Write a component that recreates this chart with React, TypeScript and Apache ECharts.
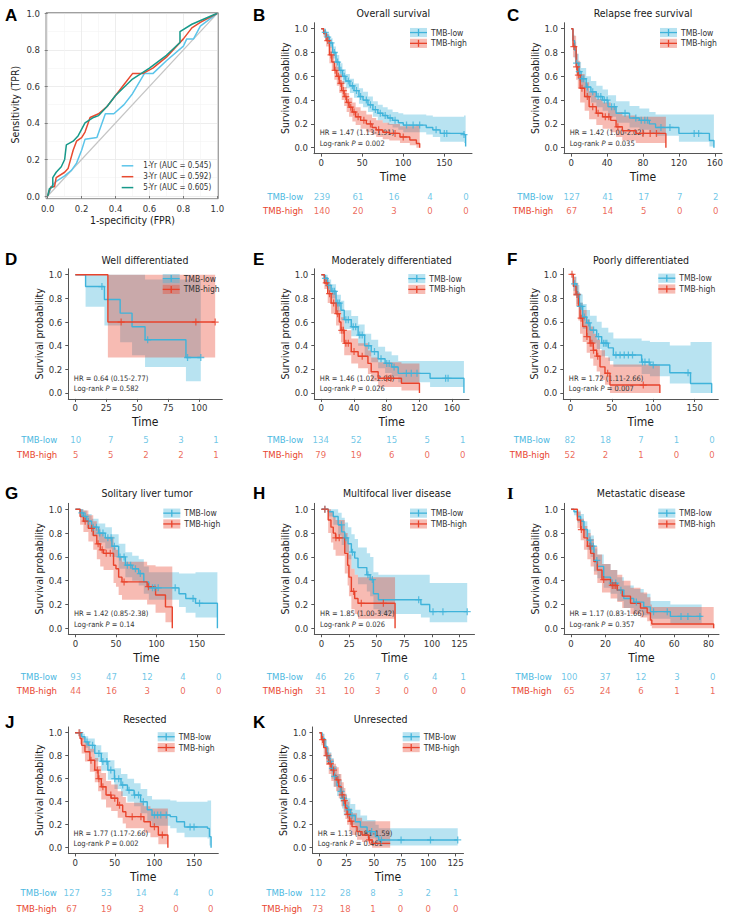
import React, { useEffect, useRef } from "react";
import * as echarts from "echarts";

type Row = [number, number, number, number]; // time, survival, lower CI, upper CI
type Pt = [number, number];

const LOW_COLOR = "#3fb3da";
const HIGH_COLOR = "#e8432c";
const LOW_BAND = "rgba(63,179,218,0.37)";
const HIGH_BAND = "rgba(232,67,44,0.36)";
const LOW_TEXT = "#4cb8df";
const HIGH_TEXT = "#e8452f";
const ROC_COLORS = ["#5cc5ea", "#e84a30", "#17998a"];
const FONT = "'DejaVu Sans Condensed', 'Liberation Sans', sans-serif";
const LETTER_FONT = "'Liberation Sans', Arial, sans-serif";
const PLUS = "path://M-0.9,-5H0.9V-0.9H5V0.9H0.9V5H-0.9V0.9H-5V-0.9H-0.9Z";

// ---------------- Panel A : ROC ----------------
const rocLabels = ["1-Yr (AUC = 0.545)", "3-Yr (AUC = 0.592)", "5-Yr (AUC = 0.605)"];
const rocDiagonal: Pt[] = [[0, 0], [1, 1]];
const roc1Yr: Pt[] = [[0, 0], [0.01, 0.02], [0.02, 0.05], [0.05, 0.08], [0.1, 0.11], [0.14, 0.14], [0.17, 0.18], [0.2, 0.25], [0.22, 0.31], [0.29, 0.32], [0.34, 0.45], [0.39, 0.45], [0.45, 0.5], [0.5, 0.56], [0.57, 0.67], [0.62, 0.67], [0.7, 0.74], [0.8, 0.82], [0.82, 0.86], [0.86, 0.86], [0.9, 0.93], [1, 1]];
const roc3Yr: Pt[] = [[0, 0], [0.01, 0.03], [0.02, 0.05], [0.04, 0.05], [0.05, 0.1], [0.1, 0.13], [0.12, 0.15], [0.15, 0.25], [0.17, 0.3], [0.2, 0.32], [0.22, 0.35], [0.25, 0.43], [0.3, 0.45], [0.35, 0.49], [0.4, 0.55], [0.45, 0.61], [0.5, 0.67], [0.56, 0.67], [0.62, 0.7], [0.7, 0.76], [0.8, 0.86], [0.85, 0.92], [0.9, 0.95], [1, 1]];
const roc5Yr: Pt[] = [[0, 0], [0.01, 0.04], [0.03, 0.05], [0.03, 0.1], [0.05, 0.13], [0.08, 0.16], [0.1, 0.2], [0.11, 0.28], [0.15, 0.3], [0.18, 0.33], [0.22, 0.4], [0.27, 0.43], [0.3, 0.44], [0.35, 0.49], [0.4, 0.55], [0.5, 0.64], [0.6, 0.7], [0.7, 0.77], [0.78, 0.84], [0.78, 0.9], [0.85, 0.94], [1, 1]];

// ---------------- KM panels ----------------
const survTicks = [0, 0.2, 0.4, 0.6, 0.8, 1.0];
const groupNames = ["TMB-low", "TMB-high"];

// B
const bTitle = "Overall survival";
const bTicks = [0, 50, 100, 150];
const bLow: Row[] = [[0, 1, 1, 1], [3, 0.97, 0.95, 0.99], [6, 0.93, 0.9, 0.96], [10, 0.88, 0.84, 0.92], [14, 0.8, 0.75, 0.85], [18, 0.72, 0.66, 0.78], [22, 0.65, 0.59, 0.71], [26, 0.6, 0.54, 0.66], [30, 0.56, 0.5, 0.62], [35, 0.52, 0.46, 0.58], [40, 0.48, 0.42, 0.54], [46, 0.43, 0.37, 0.5], [51, 0.4, 0.34, 0.47], [57, 0.36, 0.3, 0.43], [63, 0.32, 0.26, 0.39], [69, 0.29, 0.23, 0.36], [75, 0.27, 0.21, 0.34], [81, 0.25, 0.19, 0.32], [87, 0.23, 0.17, 0.3], [94, 0.21, 0.15, 0.29], [100, 0.19, 0.13, 0.28], [128, 0.17, 0.11, 0.27], [136, 0.15, 0.09, 0.26], [145, 0.12, 0.05, 0.26], [174, 0.11, 0.04, 0.27], [176, 0.01, 0, 0]];
const bHigh: Row[] = [[0, 1, 1, 1], [3, 0.96, 0.93, 0.99], [6, 0.9, 0.85, 0.95], [10, 0.78, 0.71, 0.85], [13, 0.72, 0.65, 0.79], [16, 0.65, 0.57, 0.73], [19, 0.6, 0.52, 0.68], [22, 0.54, 0.46, 0.62], [25, 0.48, 0.4, 0.56], [28, 0.43, 0.35, 0.51], [31, 0.38, 0.3, 0.46], [34, 0.34, 0.26, 0.42], [38, 0.3, 0.22, 0.38], [42, 0.26, 0.19, 0.34], [48, 0.23, 0.16, 0.31], [55, 0.2, 0.13, 0.28], [62, 0.17, 0.11, 0.25], [67, 0.15, 0.09, 0.23], [75, 0.13, 0.07, 0.21], [83, 0.12, 0.06, 0.2], [96, 0.09, 0.04, 0.18], [108, 0.065, 0.02, 0.18], [116, 0.035, 0, 0.19], [120, 0, 0, 0]];
const bLowCens = [5, 8, 12, 16, 20, 24, 28, 33, 38, 43, 48, 55, 60, 66, 72, 78, 84, 90, 104, 112, 120, 140, 150, 153, 174];
const bHighCens = [8, 12, 17, 21, 24, 27, 30, 33, 36, 40, 45, 52, 60, 70, 90, 100];
const bRiskLow = [239, 61, 16, 4, 0];
const bRiskHigh = [140, 20, 3, 0, 0];
const bHR = "HR = 1.47 (1.13-1.91)";
const bP = "0.002";

// C
const cTitle = "Relapse free survival";
const cTicks = [0, 40, 80, 120, 160];
const cLow: Row[] = [[0, 1, 1, 1], [2, 0.9, 0.85, 0.95], [3.7, 0.82, 0.75, 0.89], [5.5, 0.71, 0.63, 0.79], [8.5, 0.64, 0.56, 0.72], [11, 0.58, 0.5, 0.67], [16.7, 0.51, 0.42, 0.6], [22, 0.47, 0.38, 0.56], [28, 0.43, 0.34, 0.52], [35, 0.4, 0.31, 0.49], [41, 0.345, 0.26, 0.44], [50, 0.29, 0.21, 0.39], [65, 0.25, 0.17, 0.35], [76, 0.23, 0.15, 0.33], [87, 0.2, 0.12, 0.3], [94, 0.17, 0.1, 0.28], [120, 0.12, 0.05, 0.28], [154, 0.06, 0.01, 0.28], [159, 0, 0, 0]];
const cHigh: Row[] = [[0, 1, 1, 1], [2, 0.85, 0.76, 0.94], [5.5, 0.68, 0.57, 0.79], [7.4, 0.61, 0.5, 0.73], [10, 0.5, 0.38, 0.62], [15, 0.43, 0.31, 0.55], [20, 0.345, 0.24, 0.47], [28, 0.29, 0.19, 0.41], [35, 0.26, 0.16, 0.38], [44, 0.23, 0.13, 0.35], [50, 0.176, 0.09, 0.3], [57, 0.143, 0.06, 0.27], [72, 0.12, 0.04, 0.26], [105.5, 0, 0, 0]];
const cLowCens = [6, 9, 12, 14, 18, 24, 30, 33, 37, 40, 45, 48, 60, 72, 78, 82, 85, 100, 110, 137, 142];
const cHighCens = [3, 6, 8, 12, 18, 24, 30, 38, 42, 52, 80, 88, 95];
const cRiskLow = [127, 41, 17, 7, 2];
const cRiskHigh = [67, 14, 5, 0, 0];
const cHR = "HR = 1.42 (1.00-2.02)";
const cP = "0.035";

// D
const dTitle = "Well differentiated";
const dTicks = [0, 25, 50, 75, 100];
const dLow: Row[] = [[0, 1, 1, 1], [8.3, 0.9, 0.73, 1], [23.5, 0.79, 0.57, 1], [36.2, 0.675, 0.43, 1], [45.8, 0.56, 0.32, 1], [56.3, 0.45, 0.22, 0.96], [89.3, 0.3, 0.1, 0.96], [101.3, 0.3, 0.1, 0.96]];
const dHigh: Row[] = [[0, 1, 1, 1], [26.3, 0.6, 0.3, 1], [112.9, 0.6, 0.3, 1]];
const dLowCens = [21.5, 58.4, 90.6, 101.3];
const dHighCens = [37, 97.3, 112.9];
const dRiskLow = [10, 7, 5, 3, 1];
const dRiskHigh = [5, 5, 2, 2, 1];
const dHR = "HR = 0.64 (0.15-2.77)";
const dP = "0.582";

// E
const eTitle = "Moderately differentiated";
const eTicks = [0, 40, 80, 120, 160];
const eLow: Row[] = [[0, 1, 1, 1], [3.7, 0.97, 0.94, 1], [7.8, 0.91, 0.86, 0.96], [12, 0.86, 0.8, 0.92], [18, 0.76, 0.69, 0.83], [24, 0.7, 0.62, 0.78], [28, 0.62, 0.54, 0.7], [36.6, 0.56, 0.48, 0.65], [45, 0.49, 0.4, 0.58], [53, 0.4, 0.31, 0.5], [61, 0.35, 0.26, 0.45], [69.5, 0.29, 0.21, 0.39], [78, 0.25, 0.17, 0.35], [86, 0.22, 0.14, 0.32], [94, 0.166, 0.09, 0.27], [133, 0.124, 0.05, 0.27], [174.4, 0, 0, 0]];
const eHigh: Row[] = [[0, 1, 1, 1], [3.7, 0.93, 0.88, 0.98], [7.8, 0.84, 0.76, 0.92], [12, 0.76, 0.67, 0.85], [18, 0.67, 0.57, 0.77], [22, 0.6, 0.5, 0.7], [24, 0.53, 0.43, 0.64], [28, 0.42, 0.32, 0.53], [36.6, 0.35, 0.25, 0.46], [45, 0.31, 0.21, 0.42], [57, 0.25, 0.16, 0.36], [61, 0.18, 0.1, 0.3], [69.5, 0.124, 0.05, 0.26], [98, 0.082, 0.02, 0.25], [120, 0, 0, 0]];
const eLowCens = [5, 9, 14, 16, 20, 22, 30, 33, 39, 42, 47, 50, 58, 65, 73, 80, 83, 89, 104, 110, 117, 152, 155];
const eHighCens = [6, 10, 15, 20, 25, 27, 30, 33, 40, 50, 80, 85];
const eRiskLow = [134, 52, 15, 5, 1];
const eRiskHigh = [79, 19, 6, 0, 0];
const eHR = "HR = 1.46 (1.02-2.08)";
const eP = "0.026";

// F
const fTitle = "Poorly differentiated";
const fTicks = [0, 50, 100, 150];
const fLow: Row[] = [[0, 1, 1, 1], [3.6, 0.92, 0.86, 0.98], [7.6, 0.83, 0.75, 0.91], [10.9, 0.73, 0.64, 0.83], [14.9, 0.64, 0.54, 0.75], [19.7, 0.59, 0.48, 0.7], [23.7, 0.53, 0.42, 0.65], [31.8, 0.475, 0.37, 0.6], [37.8, 0.42, 0.31, 0.55], [45.8, 0.38, 0.27, 0.51], [51.9, 0.32, 0.22, 0.46], [86, 0.26, 0.16, 0.44], [96, 0.236, 0.14, 0.43], [120, 0.17, 0.08, 0.4], [145, 0.08, 0, 0.43], [170.5, 0, 0, 0]];
const fHigh: Row[] = [[0, 1, 1, 1], [3.6, 0.9, 0.82, 0.98], [6.8, 0.83, 0.73, 0.93], [9.7, 0.73, 0.61, 0.85], [11.7, 0.63, 0.5, 0.76], [14.9, 0.56, 0.43, 0.7], [19.7, 0.475, 0.34, 0.62], [23.7, 0.42, 0.29, 0.56], [27.7, 0.36, 0.23, 0.5], [31.8, 0.31, 0.18, 0.45], [35.8, 0.22, 0.11, 0.36], [41.8, 0.166, 0.07, 0.3], [47.8, 0.067, 0, 0.24], [108, 0, 0, 0]];
const fLowCens = [5, 9, 12, 14, 17, 22, 28, 34, 40, 42, 44, 55, 60, 65, 70, 75, 87, 90, 95, 100, 142];
const fHighCens = [2, 8, 13, 20, 24, 26, 28, 33, 45, 88];
const fRiskLow = [82, 18, 7, 1, 0];
const fRiskHigh = [52, 2, 1, 0, 0];
const fHR = "HR = 1.72 (1.11-2.66)";
const fP = "0.007";

// G
const gTitle = "Solitary liver tumor";
const gTicks = [0, 50, 100, 150];
const gLow: Row[] = [[0, 1, 1, 1], [5.8, 0.97, 0.94, 1], [9.9, 0.94, 0.89, 0.99], [14, 0.9, 0.84, 0.96], [20, 0.85, 0.78, 0.92], [28.5, 0.8, 0.72, 0.88], [36.8, 0.76, 0.67, 0.85], [45, 0.69, 0.6, 0.79], [53.3, 0.6, 0.5, 0.71], [61.6, 0.53, 0.43, 0.64], [70, 0.5, 0.4, 0.61], [78, 0.46, 0.36, 0.58], [84.3, 0.39, 0.29, 0.52], [90.5, 0.34, 0.24, 0.47], [127.7, 0.29, 0.18, 0.46], [136, 0.25, 0.13, 0.46], [148, 0.21, 0.09, 0.47], [175, 0, 0, 0]];
const gHigh: Row[] = [[0, 1, 1, 1], [5.8, 0.94, 0.87, 1], [9.9, 0.9, 0.81, 0.99], [16, 0.84, 0.73, 0.95], [22, 0.78, 0.66, 0.9], [26.4, 0.71, 0.58, 0.84], [30.6, 0.66, 0.52, 0.8], [34.7, 0.63, 0.49, 0.77], [47, 0.53, 0.38, 0.68], [50, 0.5, 0.35, 0.66], [53.3, 0.43, 0.28, 0.6], [57.4, 0.39, 0.24, 0.56], [88.4, 0.35, 0.2, 0.53], [98.8, 0.28, 0.13, 0.52], [111, 0.18, 0.05, 0.52], [119.4, 0, 0, 0]];
const gLowCens = [8, 12, 16, 22, 26, 30, 34, 40, 44, 48, 55, 60, 64, 68, 74, 80, 95, 98, 102, 123, 145, 153];
const gHighCens = [12, 20, 28, 33, 38, 43, 60, 90];
const gRiskLow = [93, 47, 12, 4, 0];
const gRiskHigh = [44, 16, 3, 0, 0];
const gHR = "HR = 1.42 (0.85-2.38)";
const gP = "0.14";

// H
const hTitle = "Multifocal liver disease";
const hTicks = [0, 25, 50, 75, 100, 125];
const hLow: Row[] = [[0, 1, 1, 1], [6, 0.98, 0.94, 1], [10.6, 0.94, 0.87, 1], [15, 0.87, 0.78, 0.97], [18.2, 0.81, 0.7, 0.93], [21, 0.76, 0.64, 0.89], [24, 0.71, 0.58, 0.85], [27, 0.64, 0.5, 0.79], [30, 0.59, 0.45, 0.75], [33, 0.51, 0.37, 0.68], [41, 0.45, 0.31, 0.63], [44, 0.41, 0.27, 0.6], [47, 0.29, 0.16, 0.47], [51.5, 0.24, 0.12, 0.45], [90, 0.2, 0.09, 0.45], [98, 0.14, 0.05, 0.38], [132, 0.14, 0.05, 0.38]];
const hHigh: Row[] = [[0, 1, 1, 1], [6, 0.91, 0.8, 1], [8.5, 0.85, 0.72, 0.98], [10.6, 0.8, 0.66, 0.94], [12.7, 0.76, 0.61, 0.91], [21, 0.63, 0.46, 0.8], [23.6, 0.53, 0.36, 0.71], [24.8, 0.43, 0.27, 0.62], [27, 0.31, 0.16, 0.5], [30, 0.25, 0.12, 0.45], [33, 0.21, 0.08, 0.43], [66.6, 0, 0, 0]];
const hLowCens = [3, 18, 22, 28, 42, 46, 88, 101, 110, 132];
const hHighCens = [3, 13, 16, 29, 36, 56];
const hRiskLow = [46, 26, 7, 6, 4, 1];
const hRiskHigh = [31, 10, 3, 0, 0, 0];
const hHR = "HR = 1.85 (1.00-3.42)";
const hP = "0.026";

// I
const iTitle = "Metastatic disease";
const iTicks = [0, 20, 40, 60, 80];
const iLow: Row[] = [[0, 1, 1, 1], [1.7, 0.98, 0.95, 1], [3.7, 0.94, 0.89, 0.99], [5.6, 0.9, 0.84, 0.96], [7.5, 0.83, 0.76, 0.9], [9.5, 0.74, 0.66, 0.83], [11.4, 0.69, 0.6, 0.78], [13.3, 0.57, 0.48, 0.67], [15.3, 0.52, 0.42, 0.62], [19, 0.43, 0.34, 0.54], [23, 0.38, 0.29, 0.49], [26.9, 0.32, 0.23, 0.43], [30.7, 0.25, 0.17, 0.36], [36.5, 0.22, 0.14, 0.33], [42.3, 0.18, 0.11, 0.29], [46.2, 0.14, 0.08, 0.23], [57.8, 0.1, 0.04, 0.2], [76, 0.1, 0.04, 0.2]];
const iHigh: Row[] = [[0, 1, 1, 1], [3.7, 0.91, 0.84, 0.98], [5.6, 0.83, 0.74, 0.92], [7.5, 0.76, 0.66, 0.86], [9.5, 0.69, 0.58, 0.8], [11.4, 0.63, 0.52, 0.75], [13.3, 0.56, 0.45, 0.69], [15.3, 0.49, 0.38, 0.62], [18, 0.41, 0.3, 0.54], [23, 0.36, 0.25, 0.49], [26.9, 0.32, 0.22, 0.45], [29.8, 0.27, 0.17, 0.4], [34.6, 0.21, 0.12, 0.34], [40.4, 0.17, 0.09, 0.3], [44.3, 0.13, 0.06, 0.26], [46.2, 0.07, 0.02, 0.2], [47, 0.036, 0, 0.18], [83, 0, 0, 0]];
const iLowCens = [11, 12, 13, 15, 24, 26, 29, 38, 48, 56, 64, 68, 75];
const iHighCens = [6, 11, 19, 24, 25, 26];
const iRiskLow = [100, 37, 12, 3, 0];
const iRiskHigh = [65, 24, 6, 1, 1];
const iHR = "HR = 1.17 (0.83-1.66)";
const iP = "0.357";

// J
const jTitle = "Resected";
const jTicks = [0, 50, 100, 150];
const jLow: Row[] = [[0, 1, 1, 1], [8.3, 0.965, 0.94, 0.99], [12.4, 0.92, 0.87, 0.97], [16.5, 0.89, 0.83, 0.95], [24.8, 0.82, 0.75, 0.89], [33, 0.75, 0.67, 0.83], [41.3, 0.675, 0.59, 0.76], [49.6, 0.6, 0.51, 0.69], [57.9, 0.545, 0.45, 0.64], [66, 0.5, 0.4, 0.6], [74.4, 0.458, 0.36, 0.56], [82.6, 0.4, 0.3, 0.51], [91, 0.33, 0.23, 0.45], [97, 0.284, 0.19, 0.42], [120, 0.27, 0.17, 0.41], [128, 0.226, 0.13, 0.4], [138, 0.18, 0.09, 0.4], [167, 0.168, 0.08, 0.41], [169.4, 0.096, 0.02, 0.41], [171.5, 0, 0, 0]];
const jHigh: Row[] = [[0, 1, 1, 1], [6.2, 0.95, 0.9, 1], [8.3, 0.89, 0.82, 0.96], [12.4, 0.835, 0.75, 0.92], [18.6, 0.76, 0.66, 0.86], [24.8, 0.675, 0.57, 0.78], [29, 0.6, 0.49, 0.71], [33, 0.53, 0.42, 0.65], [39, 0.458, 0.35, 0.58], [45.5, 0.43, 0.32, 0.55], [53.7, 0.37, 0.26, 0.49], [60, 0.313, 0.21, 0.44], [64, 0.27, 0.17, 0.39], [86.8, 0.226, 0.13, 0.36], [95, 0.183, 0.09, 0.34], [105, 0.11, 0.03, 0.34], [117, 0, 0, 0]];
const jLowCens = [6, 15, 22, 30, 35, 40, 45, 50, 55, 60, 68, 75, 80, 86, 100, 104, 108, 115, 145, 150];
const jHighCens = [5, 20, 28, 30, 35, 45, 50, 56, 72, 83, 100, 110];
const jRiskLow = [127, 53, 14, 4, 0];
const jRiskHigh = [67, 19, 3, 0, 0];
const jHR = "HR = 1.77 (1.17-2.66)";
const jP = "0.002";

// K
const kTitle = "Unresected";
const kTicks = [0, 25, 50, 75, 100, 125];
const kLow: Row[] = [[0, 1, 1, 1], [2.5, 0.95, 0.91, 0.99], [4.9, 0.88, 0.82, 0.94], [7, 0.8, 0.73, 0.87], [9.2, 0.75, 0.67, 0.83], [11, 0.69, 0.6, 0.78], [13.2, 0.62, 0.53, 0.71], [16.2, 0.54, 0.45, 0.64], [19.3, 0.49, 0.4, 0.59], [20.8, 0.43, 0.34, 0.53], [22.4, 0.37, 0.28, 0.47], [25.4, 0.33, 0.25, 0.43], [28.5, 0.28, 0.2, 0.38], [33, 0.226, 0.15, 0.33], [37.7, 0.18, 0.11, 0.28], [43.8, 0.14, 0.08, 0.24], [51.5, 0.096, 0.04, 0.2], [54.5, 0.067, 0.02, 0.17], [127, 0.067, 0.02, 0.17]];
const kHigh: Row[] = [[0, 1, 1, 1], [1.8, 0.94, 0.89, 0.99], [4, 0.87, 0.8, 0.94], [6.1, 0.8, 0.72, 0.88], [8.6, 0.73, 0.64, 0.82], [11, 0.675, 0.58, 0.77], [13.2, 0.63, 0.53, 0.73], [15.3, 0.59, 0.49, 0.7], [17.8, 0.53, 0.43, 0.64], [20.2, 0.46, 0.36, 0.57], [22.4, 0.41, 0.31, 0.52], [23.9, 0.345, 0.25, 0.46], [25.4, 0.29, 0.2, 0.4], [27.6, 0.23, 0.15, 0.34], [30, 0.183, 0.11, 0.3], [34.6, 0.14, 0.07, 0.26], [39.2, 0.11, 0.05, 0.23], [45.3, 0.067, 0.02, 0.23], [48.4, 0.038, 0, 0.23], [65, 0.038, 0, 0.23]];
const kLowCens = [8, 10, 12, 14, 20, 22, 27, 30, 48, 57, 75, 102, 127];
const kHighCens = [3, 7, 10, 13, 17, 21, 23, 26, 29, 46];
const kRiskLow = [112, 28, 8, 3, 2, 1];
const kRiskHigh = [73, 18, 1, 0, 0, 0];
const kHR = "HR = 1.13 (0.81-1.59)";
const kP = "0.461";

const panels = [
  { id: "B", title: bTitle, ticks: bTicks, low: bLow, high: bHigh, lowCens: bLowCens, highCens: bHighCens, riskLow: bRiskLow, riskHigh: bRiskHigh, hr: bHR, p: bP },
  { id: "C", title: cTitle, ticks: cTicks, low: cLow, high: cHigh, lowCens: cLowCens, highCens: cHighCens, riskLow: cRiskLow, riskHigh: cRiskHigh, hr: cHR, p: cP },
  { id: "D", title: dTitle, ticks: dTicks, low: dLow, high: dHigh, lowCens: dLowCens, highCens: dHighCens, riskLow: dRiskLow, riskHigh: dRiskHigh, hr: dHR, p: dP },
  { id: "E", title: eTitle, ticks: eTicks, low: eLow, high: eHigh, lowCens: eLowCens, highCens: eHighCens, riskLow: eRiskLow, riskHigh: eRiskHigh, hr: eHR, p: eP },
  { id: "F", title: fTitle, ticks: fTicks, low: fLow, high: fHigh, lowCens: fLowCens, highCens: fHighCens, riskLow: fRiskLow, riskHigh: fRiskHigh, hr: fHR, p: fP },
  { id: "G", title: gTitle, ticks: gTicks, low: gLow, high: gHigh, lowCens: gLowCens, highCens: gHighCens, riskLow: gRiskLow, riskHigh: gRiskHigh, hr: gHR, p: gP },
  { id: "H", title: hTitle, ticks: hTicks, low: hLow, high: hHigh, lowCens: hLowCens, highCens: hHighCens, riskLow: hRiskLow, riskHigh: hRiskHigh, hr: hHR, p: hP },
  { id: "I", title: iTitle, ticks: iTicks, low: iLow, high: iHigh, lowCens: iLowCens, highCens: iHighCens, riskLow: iRiskLow, riskHigh: iRiskHigh, hr: iHR, p: iP },
  { id: "J", title: jTitle, ticks: jTicks, low: jLow, high: jHigh, lowCens: jLowCens, highCens: jHighCens, riskLow: jRiskLow, riskHigh: jRiskHigh, hr: jHR, p: jP },
  { id: "K", title: kTitle, ticks: kTicks, low: kLow, high: kHigh, lowCens: kLowCens, highCens: kHighCens, riskLow: kRiskLow, riskHigh: kRiskHigh, hr: kHR, p: kP },
];

// layout (pixel positions) per panel
const layouts: Record<string, any> = {
  B: { lx: 253, ly: 15, left: 314, right: 472, top: 22.75, bottom: 153.65, xMin: -8.75, xMax: 183.75, tx: 393.3, ty: 13, legX: 410, rL: 322, rR: 466, rY1: 196.8, rY2: 210.8, labR: 303.3 },
  C: { lx: 507, ly: 15, left: 564, right: 722, top: 22.75, bottom: 153.65, xMin: -8, xMax: 168, tx: 643, ty: 13, legX: 660, rL: 571.7, rR: 715.7, rY1: 196.8, rY2: 210.8, labR: 553.3 },
  D: { lx: 5, ly: 259, left: 68.3, right: 222.3, top: 268.8, bottom: 398.9, xMin: -5.65, xMax: 118.65, tx: 145, ty: 260, legX: 162.7, rL: 75.7, rR: 216, rY1: 439, rY2: 454.7, labR: 57.3 },
  E: { lx: 253, ly: 259, left: 314.3, right: 469, top: 268.8, bottom: 398.9, xMin: -8.6, xMax: 180.6, tx: 391.7, ty: 260, legX: 408.3, rL: 320.7, rR: 462.7, rY1: 439, rY2: 454.7, labR: 303.3 },
  F: { lx: 507, ly: 259, left: 563.3, right: 718.3, top: 268.4, bottom: 398.9, xMin: -8.5, xMax: 178.5, tx: 641, ty: 260, legX: 658.3, rL: 570, rR: 712, rY1: 439, rY2: 454.7, labR: 550 },
  G: { lx: 5, ly: 493, left: 68.3, right: 224.5, top: 503.35, bottom: 634.25, xMin: -8.75, xMax: 183.75, tx: 147, ty: 493, legX: 163.3, rL: 75.7, rR: 218.7, rY1: 676, rY2: 690.3, labR: 57 },
  H: { lx: 253, ly: 493, left: 314.3, right: 474.5, top: 503.35, bottom: 634.25, xMin: -6.6, xMax: 138.6, tx: 397, ty: 493, legX: 410, rL: 320.7, rR: 463.3, rY1: 676, rY2: 690.3, labR: 303 },
  I: { lx: 507, ly: 493, left: 564, right: 719, top: 503.35, bottom: 634.25, xMin: -4.1, xMax: 86.1, tx: 641, ty: 493, legX: 658.3, rL: 569.3, rR: 712.7, rY1: 676, rY2: 690.3, labR: 551.7, serif: true },
  J: { lx: 5, ly: 722, left: 68.3, right: 218.3, top: 726.95, bottom: 853.45, xMin: -8.6, xMax: 180.6, tx: 144.8, ty: 719, legX: 157.7, rL: 71.7, rR: 210.7, rY1: 892.3, rY2: 908, labR: 56.7 },
  K: { lx: 253, ly: 722, left: 312.5, right: 463.5, top: 726.95, bottom: 853.45, xMin: -6.3, xMax: 132.3, tx: 380.7, ty: 719, legX: 402.7, rL: 317.7, rR: 455.7, rY1: 892.3, rY2: 908, labR: 302.3 },
};

function stepAt(rows: Row[], t: number): number {
  let s = rows[0][1];
  for (const r of rows) {
    if (r[0] <= t) s = r[1];
    else break;
  }
  return s;
}

function txt(text: string, x: number, y: number, o: any = {}) {
  const align = o.align || "left";
  const va = o.va || "middle";
  return {
    type: "text",
    x,
    y,
    silent: true,
    z: o.z ?? 20,
    style: {
      text,
      fill: o.color || "#1a1a1a",
      fontSize: o.size || 10,
      fontFamily: o.family || FONT,
      fontWeight: o.weight || "normal",
      align,
      verticalAlign: va,
      textAlign: align,
      textVerticalAlign: va,
      rich: o.rich,
    },
  };
}

function bandSeries(rows: Row[], idx: number, color: string) {
  return {
    type: "custom",
    xAxisIndex: idx,
    yAxisIndex: idx,
    silent: true,
    z: 1,
    data: [[rows[0][0], rows[0][1]]],
    renderItem: (_params: any, api: any) => {
      const pts: number[][] = [];
      for (let i = 0; i < rows.length - 1; i++) {
        pts.push(api.coord([rows[i][0], rows[i][3]]));
        pts.push(api.coord([rows[i + 1][0], rows[i][3]]));
      }
      for (let i = rows.length - 2; i >= 0; i--) {
        pts.push(api.coord([rows[i + 1][0], rows[i][2]]));
        pts.push(api.coord([rows[i][0], rows[i][2]]));
      }
      return { type: "polygon", shape: { points: pts }, style: { fill: color } };
    },
  };
}

function buildOption() {
  const grid: any[] = [];
  const xAxis: any[] = [];
  const yAxis: any[] = [];
  const series: any[] = [];
  const graphic: any[] = [];
  const axisText = { fontSize: 9.5, color: "#333", fontFamily: FONT };

  // ---------- Panel A ----------
  grid.push({ left: 47.7, top: 13.3, width: 169.6, height: 182.7 });
  xAxis.push({
    gridIndex: 0, type: "value", min: 0, max: 1, interval: 0.2, offset: 2.7,
    axisLine: { show: false },
    axisTick: { show: true, length: 3, lineStyle: { color: "#777" } },
    axisLabel: { ...axisText, margin: 5, formatter: (v: number) => v.toFixed(1) },
    splitLine: { show: true, lineStyle: { color: "#e8e8e8", width: 0.8 } },
    minorTick: { show: false, splitNumber: 2 },
    minorSplitLine: { show: true, lineStyle: { color: "#f4f4f4", width: 0.6 } },
    name: "1-specificity (FPR)", nameLocation: "middle", nameGap: 16,
    nameTextStyle: { fontSize: 10.5, color: "#1a1a1a", fontFamily: FONT },
  });
  yAxis.push({
    gridIndex: 0, type: "value", min: 0, max: 1, interval: 0.2, offset: 1.7,
    axisLine: { show: false },
    axisTick: { show: true, length: 3, lineStyle: { color: "#777" } },
    axisLabel: { ...axisText, margin: 6, formatter: (v: number) => v.toFixed(1) },
    splitLine: { show: true, lineStyle: { color: "#e8e8e8", width: 0.8 } },
    minorTick: { show: false, splitNumber: 2 },
    minorSplitLine: { show: true, lineStyle: { color: "#f4f4f4", width: 0.6 } },
    name: "Sensitivity (TPR)", nameLocation: "middle", nameGap: 26,
    nameTextStyle: { fontSize: 10.5, color: "#1a1a1a", fontFamily: FONT },
  });
  series.push({
    type: "line", xAxisIndex: 0, yAxisIndex: 0, data: rocDiagonal, symbol: "none", silent: true,
    lineStyle: { color: "#c4c4c4", width: 1.2 }, z: 2,
  });
  [roc1Yr, roc3Yr, roc5Yr].forEach((d, i) => {
    series.push({
      type: "line", xAxisIndex: 0, yAxisIndex: 0, data: d, symbol: "none", silent: true,
      lineStyle: { color: ROC_COLORS[i], width: 1.5 }, z: 3 + i,
    });
  });
  graphic.push({
    type: "rect", silent: true, z: 15,
    shape: { x: 46, y: 12.7, width: 172.3, height: 186 },
    style: { fill: "none", stroke: "#8a8a8a", lineWidth: 1 },
  });
  graphic.push(txt("A", 5, 15, { size: 17, weight: "bold", family: LETTER_FONT, color: "#000" }));
  const rocLegY = [165.8, 176.7, 187.6];
  rocLabels.forEach((lab, i) => {
    graphic.push({
      type: "line", silent: true, z: 16,
      shape: { x1: 121.7, y1: rocLegY[i], x2: 133.3, y2: rocLegY[i] },
      style: { stroke: ROC_COLORS[i], lineWidth: 1.5 },
    });
    graphic.push(txt(lab, 143.3, rocLegY[i], { size: 8, color: "#333" }));
  });

  // ---------- KM panels ----------
  panels.forEach((p) => {
    const L = layouts[p.id];
    const gi = grid.length;
    const px = (t: number) => L.left + ((t - L.xMin) / (L.xMax - L.xMin)) * (L.right - L.left);
    const py = (s: number) => L.bottom - ((s + 0.05) / 1.1) * (L.bottom - L.top);

    grid.push({ left: L.left, top: L.top, width: L.right - L.left, height: L.bottom - L.top });
    xAxis.push({
      gridIndex: gi, type: "value", min: L.xMin, max: L.xMax,
      axisLine: { show: true, onZero: false, lineStyle: { color: "#555", width: 1 } },
      axisTick: { show: true, length: 3, customValues: p.ticks, lineStyle: { color: "#555" } },
      axisLabel: { ...axisText, margin: 4, customValues: p.ticks },
      splitLine: { show: false },
      name: "Time", nameLocation: "middle", nameGap: 17.5,
      nameTextStyle: { fontSize: 12, color: "#1a1a1a", fontFamily: FONT },
    });
    yAxis.push({
      gridIndex: gi, type: "value", min: -0.05, max: 1.05,
      axisLine: { show: true, onZero: false, lineStyle: { color: "#555", width: 1 } },
      axisTick: { show: true, length: 3, customValues: survTicks, lineStyle: { color: "#555" } },
      axisLabel: { ...axisText, margin: 6, customValues: survTicks, formatter: (v: number) => v.toFixed(1) },
      splitLine: { show: false },
      name: "Survival probability", nameLocation: "middle", nameGap: 24,
      nameTextStyle: { fontSize: 10.5, color: "#1a1a1a", fontFamily: FONT },
    });

    series.push(bandSeries(p.low, gi, LOW_BAND));
    series.push(bandSeries(p.high, gi, HIGH_BAND));
    series.push({
      type: "line", xAxisIndex: gi, yAxisIndex: gi, step: "end", symbol: "none", silent: true, z: 3,
      data: p.low.map((r) => [r[0], r[1]]), lineStyle: { color: LOW_COLOR, width: 1.4 },
    });
    series.push({
      type: "line", xAxisIndex: gi, yAxisIndex: gi, step: "end", symbol: "none", silent: true, z: 4,
      data: p.high.map((r) => [r[0], r[1]]), lineStyle: { color: HIGH_COLOR, width: 1.4 },
    });
    series.push({
      type: "scatter", xAxisIndex: gi, yAxisIndex: gi, symbol: PLUS, symbolSize: 7, silent: true, z: 5,
      data: p.lowCens.map((t) => [t, stepAt(p.low, t)]), itemStyle: { color: LOW_COLOR },
    });
    series.push({
      type: "scatter", xAxisIndex: gi, yAxisIndex: gi, symbol: PLUS, symbolSize: 7, silent: true, z: 6,
      data: p.highCens.map((t) => [t, stepAt(p.high, t)]), itemStyle: { color: HIGH_COLOR },
    });

    // risk table
    const ri = grid.length;
    const h = 2 * (L.rY2 - L.rY1);
    grid.push({ left: L.rL, top: L.rY1 - h / 4, width: L.rR - L.rL, height: h });
    xAxis.push({ gridIndex: ri, type: "value", min: 0, max: p.riskLow.length - 1, show: false });
    yAxis.push({
      gridIndex: ri, type: "category", data: groupNames, inverse: true,
      axisLine: { show: false }, axisTick: { show: false }, splitLine: { show: false },
      axisLabel: {
        interval: 0,
        hideOverlap: false,
        margin: L.rL - L.labR,
        formatter: (v: string) => (v === "TMB-low" ? `{l|${v}}` : `{h|${v}}`),
        rich: {
          l: { color: LOW_TEXT, fontSize: 9.5, fontFamily: FONT },
          h: { color: HIGH_TEXT, fontSize: 9.5, fontFamily: FONT },
        },
      },
    });
    [p.riskLow, p.riskHigh].forEach((arr, gIdx) => {
      series.push({
        type: "scatter", xAxisIndex: ri, yAxisIndex: ri, symbolSize: 0, silent: true,
        data: arr.map((v, i) => [i, gIdx, v]),
        label: {
          show: true, position: "inside", formatter: (prm: any) => String(prm.value[2]),
          color: gIdx === 0 ? LOW_TEXT : HIGH_TEXT, fontSize: 9.5, fontFamily: FONT,
        },
      });
    });

    // letter, title
    graphic.push(txt(p.id, L.lx, L.ly, {
      size: 17, weight: "bold", color: "#000",
      family: L.serif ? "'Liberation Serif', 'DejaVu Serif', serif" : LETTER_FONT,
    }));
    graphic.push(txt(p.title, L.tx, L.ty, { size: 10.5, align: "center", color: "#1a1a1a" }));

    // legend
    const legY = [L.top + 9.8, L.top + 20.6];
    [
      { name: groupNames[0], c: LOW_COLOR, b: LOW_BAND },
      { name: groupNames[1], c: HIGH_COLOR, b: HIGH_BAND },
    ].forEach((g, k) => {
      const y = legY[k];
      graphic.push({
        type: "rect", silent: true, z: 16,
        shape: { x: L.legX, y: y - 4.6, width: 17, height: 9.2 },
        style: { fill: g.b },
      });
      graphic.push({
        type: "line", silent: true, z: 17,
        shape: { x1: L.legX, y1: y, x2: L.legX + 17, y2: y },
        style: { stroke: g.c, lineWidth: 1.3 },
      });
      graphic.push({
        type: "line", silent: true, z: 17,
        shape: { x1: L.legX + 8.5, y1: y - 3.5, x2: L.legX + 8.5, y2: y + 3.5 },
        style: { stroke: g.c, lineWidth: 1.3 },
      });
      graphic.push(txt(g.name, L.legX + 21, y, { size: 8.5, color: "#333" }));
    });

    // HR & log-rank
    graphic.push(txt(p.hr, px(0) - 1.5, py(0.125), { size: 7.5, color: "#333", z: 2 }));
    graphic.push(txt(`Log-rank {i|P} = ${p.p}`, px(0) - 1.5, py(0.035), {
      size: 7.5, color: "#333", z: 2,
      rich: { i: { fontStyle: "italic", fontSize: 7.5, fontFamily: FONT, fill: "#333", color: "#333" } },
    }));
  });

  return {
    animation: false,
    backgroundColor: "#ffffff",
    grid,
    xAxis,
    yAxis,
    series,
    graphic: { elements: graphic },
  };
}

export default function App() {
  const ref = useRef<HTMLDivElement>(null);
  useEffect(() => {
    if (!ref.current) return;
    const chart = echarts.init(ref.current, undefined, { renderer: "svg" });
    chart.setOption(buildOption() as any);
    return () => chart.dispose();
  }, []);
  return (
    <div
      ref={ref}
      style={{ position: "absolute", left: 0, top: 0, width: 736, height: 921, background: "#fff" }}
    />
  );
}
